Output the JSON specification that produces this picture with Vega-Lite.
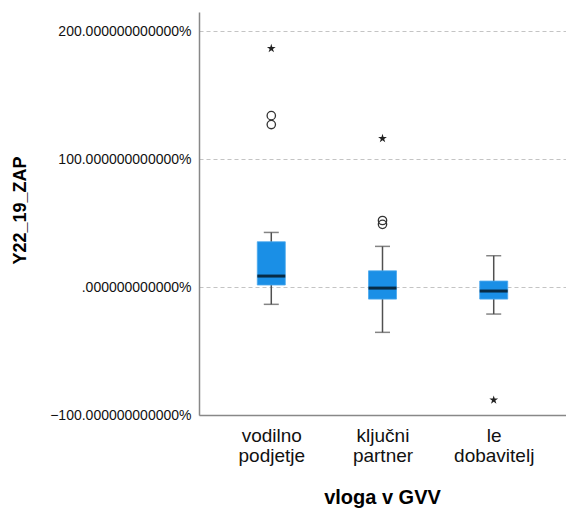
{
  "$schema": "https://vega.github.io/schema/vega-lite/v6.json",
  "autosize": "none",
  "width": 367,
  "height": 403,
  "padding": {"left": 199, "top": 12, "right": 0, "bottom": 95},
  "background": "white",
  "config": {
    "font": "Liberation Sans",
    "view": {"stroke": null}
  },
  "datasets": {
    "boxes": [
      {"vloga": "vodilno podjetje", "lower": -13.5, "q1": 1.6, "median": 8.6, "q3": 35.4, "upper": 42.7},
      {"vloga": "ključni partner", "lower": -35.4, "q1": -9.4, "median": -0.8, "q3": 12.7, "upper": 31.8},
      {"vloga": "le dobavitelj", "lower": -21.1, "q1": -9.4, "median": -3.1, "q3": 4.7, "upper": 24.5}
    ],
    "outliers": [
      {"vloga": "vodilno podjetje", "value": 134.0, "kind": "circle"},
      {"vloga": "vodilno podjetje", "value": 127.0, "kind": "circle"},
      {"vloga": "vodilno podjetje", "value": 186.5, "kind": "star"},
      {"vloga": "ključni partner", "value": 52.0, "kind": "circle"},
      {"vloga": "ključni partner", "value": 49.0, "kind": "circle"},
      {"vloga": "ključni partner", "value": 116.2, "kind": "star"},
      {"vloga": "le dobavitelj", "value": -88.3, "kind": "star"}
    ]
  },
  "encoding": {
    "x": {
      "field": "vloga",
      "type": "nominal",
      "sort": ["vodilno podjetje", "ključni partner", "le dobavitelj"],
      "scale": {"type": "point", "padding": 0.65},
      "axis": {
        "title": "vloga v GVV",
        "titleFont": "Liberation Sans",
        "titleFontSize": 20,
        "titleFontWeight": "bold",
        "titleColor": "#000000",
        "titleX": 183,
        "titleY": 82,
        "titleBaseline": "middle",
        "titleAlign": "center",
        "labelExpr": "split(datum.label, ' ')",
        "labelAngle": 0,
        "labelFontSize": 19,
        "labelLineHeight": 20,
        "labelColor": "#111111",
        "labelPadding": 11,
        "labelBaseline": "top",
        "ticks": false,
        "domainColor": "#888888",
        "domainWidth": 1.5,
        "grid": false
      }
    }
  },
  "layer": [
    {
      "data": {"name": "boxes"},
      "mark": {"type": "rule", "color": "#505050", "strokeWidth": 1.5},
      "encoding": {
        "y": {
          "field": "lower",
          "type": "quantitative",
          "scale": {"domain": [-100, 215], "nice": false, "zero": false},
          "axis": {
            "title": "Y22_19_ZAP",
            "titleFont": "Liberation Sans",
            "titleFontSize": 18,
            "titleFontWeight": "bold",
            "titleColor": "#000000",
            "titleX": -179,
            "titleY": 198,
            "titleAngle": -90,
            "titleAlign": "center",
            "titleBaseline": "middle",
            "values": [-100, 0, 100, 200],
            "labelExpr": "datum.value == 0 ? '.000000000000%' : format(datum.value, '.12f') + '%'",
            "labelFontSize": 14,
            "labelColor": "#111111",
            "labelPadding": 8,
            "ticks": false,
            "domainColor": "#888888",
            "domainWidth": 1.5,
            "grid": true,
            "gridColor": "#c4c4c4",
            "gridDash": [4, 3],
            "gridWidth": 1.2
          }
        },
        "y2": {"field": "upper"}
      }
    },
    {
      "data": {"name": "boxes"},
      "mark": {"type": "tick", "color": "#505050", "size": 15, "thickness": 1.5, "orient": "horizontal"},
      "encoding": {"y": {"field": "lower", "type": "quantitative"}}
    },
    {
      "data": {"name": "boxes"},
      "mark": {"type": "tick", "color": "#505050", "size": 15, "thickness": 1.5, "orient": "horizontal"},
      "encoding": {"y": {"field": "upper", "type": "quantitative"}}
    },
    {
      "data": {"name": "boxes"},
      "mark": {"type": "bar", "width": 28, "color": "#1a8fe6", "stroke": "#4aa8ee", "strokeWidth": 0.8},
      "encoding": {
        "y": {"field": "q1", "type": "quantitative"},
        "y2": {"field": "q3"}
      }
    },
    {
      "data": {"name": "boxes"},
      "mark": {"type": "tick", "color": "#000000", "size": 28, "thickness": 3, "orient": "horizontal"},
      "encoding": {"y": {"field": "median", "type": "quantitative"}}
    },
    {
      "data": {"name": "outliers"},
      "transform": [{"filter": "datum.kind == 'circle'"}],
      "mark": {"type": "point", "shape": "circle", "filled": false, "color": "#333333", "size": 70, "strokeWidth": 1.3, "opacity": 1},
      "encoding": {"y": {"field": "value", "type": "quantitative"}}
    },
    {
      "data": {"name": "outliers"},
      "transform": [{"filter": "datum.kind == 'star'"}],
      "mark": {"type": "point", "shape": "M0,-1L0.22,-0.32L0.95,-0.31L0.36,0.12L0.59,0.81L0,0.38L-0.59,0.81L-0.36,0.12L-0.95,-0.31L-0.22,-0.32Z", "filled": true, "color": "#222222", "size": 85, "opacity": 1},
      "encoding": {"y": {"field": "value", "type": "quantitative"}}
    }
  ]
}
